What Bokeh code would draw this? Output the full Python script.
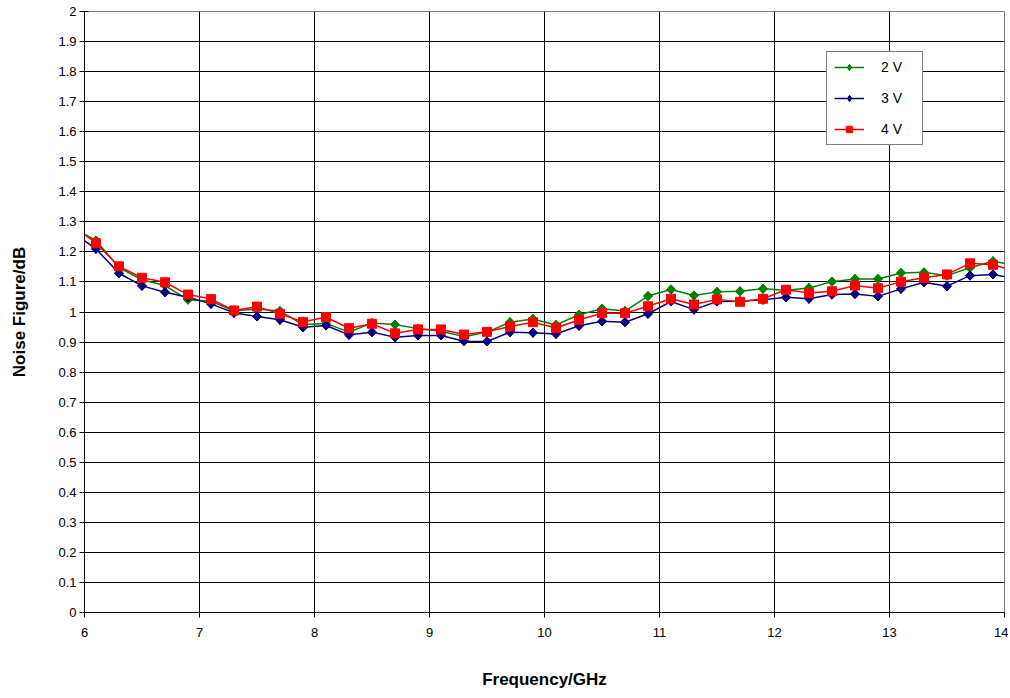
import math
from bokeh.plotting import figure
from bokeh.models import FixedTicker, CustomJSTickFormatter, Range1d, Legend, LegendItem
from bokeh.embed import file_html
from bokeh.resources import INLINE

freq = [5.9, 6.1, 6.3, 6.5, 6.7, 6.9, 7.1, 7.3, 7.5, 7.7, 7.9, 8.1, 8.3, 8.5, 8.7, 8.9,
        9.1, 9.3, 9.5, 9.7, 9.9, 10.1, 10.3, 10.5, 10.7, 10.9, 11.1, 11.3, 11.5, 11.7,
        11.9, 12.1, 12.3, 12.5, 12.7, 12.9, 13.1, 13.3, 13.5, 13.7, 13.9, 14.1]

nf_2v = [1.280, 1.238, 1.148, 1.107, 1.088, 1.041, 1.036, 1.003, 1.010, 1.003, 0.958,
         0.962, 0.933, 0.963, 0.958, 0.945, 0.936, 0.918, 0.933, 0.966, 0.977, 0.957,
         0.991, 1.011, 1.003, 1.053, 1.075, 1.055, 1.067, 1.069, 1.077, 1.072, 1.080,
         1.101, 1.110, 1.110, 1.130, 1.132, 1.121, 1.147, 1.169, 1.155]

nf_3v = [1.264, 1.210, 1.129, 1.087, 1.066, 1.049, 1.027, 0.997, 0.985, 0.974, 0.949,
         0.955, 0.924, 0.933, 0.916, 0.922, 0.922, 0.903, 0.902, 0.933, 0.931, 0.927,
         0.954, 0.969, 0.966, 0.994, 1.035, 1.008, 1.035, 1.036, 1.041, 1.049, 1.044,
         1.058, 1.060, 1.052, 1.077, 1.099, 1.086, 1.121, 1.125, 1.110]

nf_4v = [1.287, 1.229, 1.152, 1.114, 1.099, 1.058, 1.043, 1.005, 1.018, 0.994, 0.967,
         0.983, 0.946, 0.961, 0.929, 0.942, 0.942, 0.925, 0.934, 0.952, 0.966, 0.947,
         0.974, 0.996, 0.996, 1.019, 1.044, 1.025, 1.042, 1.034, 1.044, 1.074, 1.063,
         1.069, 1.088, 1.079, 1.101, 1.114, 1.125, 1.162, 1.157, 1.135]

x_ticks = [6, 7, 8, 9, 10, 11, 12, 13, 14]
y_ticks = [round(i * 0.1, 1) for i in range(21)]

FONT = "Liberation Sans"

p = figure(frame_width=920, frame_height=601, width=1008, height=690,
           output_backend="svg", toolbar_location=None,
           x_range=Range1d(6, 14), y_range=Range1d(0, 2),
           min_border_left=84, min_border_right=4, min_border_top=11, min_border_bottom=78)
p.background_fill_color = "white"
p.border_fill_color = "white"
p.outline_line_color = "#808080"
p.outline_line_width = 1

p.xaxis.ticker = FixedTicker(ticks=x_ticks)
p.yaxis.ticker = FixedTicker(ticks=y_ticks)
p.yaxis.formatter = CustomJSTickFormatter(code="return Number(tick.toFixed(1)).toString();")
p.xaxis.formatter = CustomJSTickFormatter(code="return Number(tick.toFixed(0)).toString();")

for ax in (p.xaxis, p.yaxis):
    ax.axis_line_color = "black"
    ax.axis_line_width = 1
    ax.major_tick_line_color = "black"
    ax.minor_tick_line_color = None
    ax.major_label_text_font = FONT
    ax.major_label_text_font_size = "13px"
    ax.major_label_text_color = "black"
    ax.axis_label_text_font = FONT
    ax.axis_label_text_font_size = "17px"
    ax.axis_label_text_font_style = "bold"
    ax.axis_label_text_color = "black"

p.xaxis.major_tick_out = 5
p.xaxis.major_tick_in = 0
p.xaxis.major_label_standoff = 10
p.xaxis.axis_label = "Frequency/GHz"
p.xaxis.axis_label_standoff = 30

p.yaxis.major_tick_out = 5
p.yaxis.major_tick_in = 4
p.yaxis.major_label_standoff = 3
p.yaxis.axis_label = "Noise Figure/dB"
p.yaxis.axis_label_standoff = 26

p.xgrid.grid_line_color = "black"
p.ygrid.grid_line_color = "black"
p.xgrid.grid_line_width = 1
p.ygrid.grid_line_width = 1

series = [
    ("2 V", nf_2v, "#008000", "diamond"),
    ("3 V", nf_3v, "#000080", "diamond"),
    ("4 V", nf_4v, "#FF0000", "square"),
]

items = []
for label, vals, color, mk in series:
    ln = p.line(freq, vals, line_color=color, line_width=1.5)
    if mk == "diamond":
        # narrow diamond (used by the legend), fully covered by the rotated square below
        lg = p.scatter(freq, vals, marker="diamond", size=9,
                       fill_color=color, line_color=color)
        p.scatter(freq, vals, marker="square", angle=math.pi / 4, size=6.5,
                  fill_color=color, line_color=color)
        items.append(LegendItem(label=label, renderers=[ln, lg]))
    else:
        sc = p.scatter(freq, vals, marker="square", size=9,
                       fill_color=color, line_color=color)
        items.append(LegendItem(label=label, renderers=[ln, sc]))

legend = Legend(items=items, location=(742, 467))
legend.border_line_color = "black"
legend.border_line_width = 1
legend.background_fill_color = "white"
legend.background_fill_alpha = 1
legend.padding = 7
legend.spacing = 15
legend.glyph_width = 30
legend.glyph_height = 16
legend.label_height = 16
legend.label_width = 34
legend.label_standoff = 17
legend.margin = 0
legend.label_text_font = FONT
legend.label_text_font_size = "14px"
legend.label_text_color = "black"
p.add_layout(legend, "center")

open("out.html", "w").write(file_html(p, INLINE))
